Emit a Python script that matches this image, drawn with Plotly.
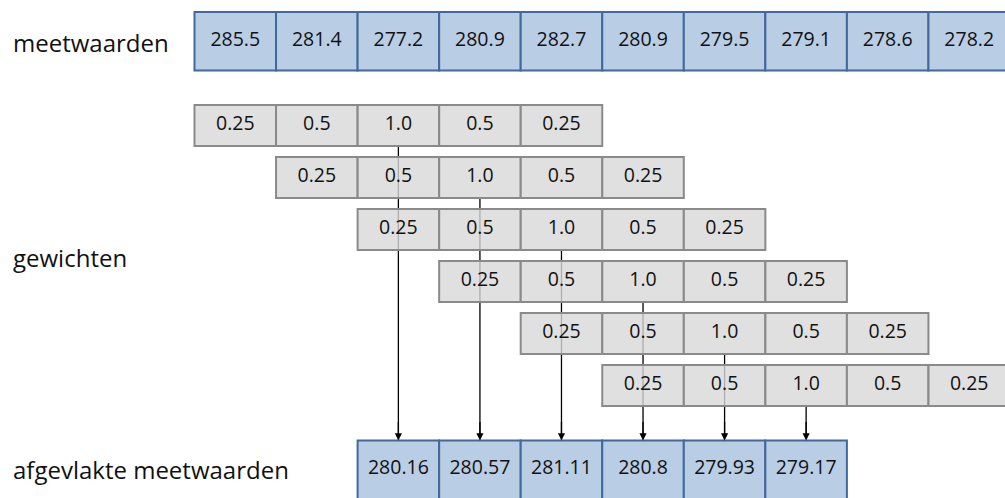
import plotly.graph_objects as go

# Data
meetwaarden = [285.5, 281.4, 277.2, 280.9, 282.7, 280.9, 279.5, 279.1, 278.6, 278.2]
gewichten = [0.25, 0.5, 1.0, 0.5, 0.25]
afgevlakt = [280.16, 280.57, 281.11, 280.8, 279.93, 279.17]
labels = ["meetwaarden", "gewichten", "afgevlakte meetwaarden"]

# Layout geometry
W, H = 1005, 498
x0 = 194.5
cw = 81.55
top_y = (12, 70.5)
row_h = 41
row_top0 = 105
row_step = 52
bot_y = (440.5, 510)

blue_fill = "#b9cde5"
blue_line = "#41699b"
grey_fill = "rgba(216,216,216,0.8)"
grey_line = "#8a8a8a"
font = "Open Sans"

shapes = []
annotations = []
fig = go.Figure()

n_rows = len(meetwaarden) - len(gewichten) + 1  # 6

# Arrow lines (drawn first, beneath boxes)
for j in range(n_rows):
    xc = x0 + (j + 2.5) * cw
    yb = row_top0 + j * row_step + row_h
    shapes.append(dict(type="line", x0=xc, x1=xc, y0=yb, y1=bot_y[0] - 4,
                       line=dict(color="black", width=1.3), xref="x", yref="y",
                       layer="below"))
    annotations.append(dict(x=xc, y=bot_y[0], ax=xc, ay=bot_y[0] - 20,
                            xref="x", yref="y", axref="x", ayref="y",
                            showarrow=True, arrowhead=2, arrowsize=1.1,
                            arrowwidth=1.3, arrowcolor="black", standoff=0, text=""))

# Top row: meetwaarden
tx, ty, tt = [], [], []
for i, v in enumerate(meetwaarden):
    shapes.append(dict(type="rect", x0=x0 + i * cw, x1=x0 + (i + 1) * cw,
                       y0=top_y[0], y1=top_y[1], fillcolor=blue_fill,
                       line=dict(color=blue_line, width=2), xref="x", yref="y",
                       layer="below"))
    tx.append(x0 + (i + 0.5) * cw)
    ty.append((top_y[0] + top_y[1]) / 2)
    tt.append(f"{v:.1f}")

# Weight rows
gx, gy, gt = [], [], []
for j in range(n_rows):
    yt = row_top0 + j * row_step
    for k, w in enumerate(gewichten):
        xl = x0 + (j + k) * cw
        shapes.append(dict(type="rect", x0=xl, x1=xl + cw, y0=yt, y1=yt + row_h,
                           fillcolor=grey_fill, line=dict(color=grey_line, width=2),
                           xref="x", yref="y", layer="below"))
        gx.append(xl + cw / 2)
        gy.append(yt + row_h / 2)
        gt.append(str(w))

# Bottom row: afgevlakte meetwaarden
bx, by, bt = [], [], []
for i, v in enumerate(afgevlakt):
    xl = x0 + (i + 2) * cw
    shapes.append(dict(type="rect", x0=xl, x1=xl + cw, y0=bot_y[0], y1=bot_y[1],
                       fillcolor=blue_fill, line=dict(color=blue_line, width=2),
                       xref="x", yref="y", layer="below"))
    bx.append(xl + cw / 2)
    by.append(469)
    bt.append(f"{v:g}")

for xs, ys, ts in [(tx, ty, tt), (gx, gy, gt), (bx, by, bt)]:
    fig.add_trace(go.Scatter(x=xs, y=ys, text=ts, mode="text",
                             textfont=dict(family=font, size=19.5, color="#111111"),
                             hoverinfo="skip", showlegend=False, cliponaxis=False))

for lab, yy in zip(labels, [42, 257, 469]):
    annotations.append(dict(x=11, y=yy, xref="x", yref="y", text=lab, showarrow=False,
                            xanchor="left", yanchor="middle",
                            font=dict(family=font, size=24, color="#111111")))

fig.update_layout(
    width=W, height=H, margin=dict(l=0, r=0, t=0, b=0),
    paper_bgcolor="white", plot_bgcolor="white",
    xaxis=dict(range=[0, W], visible=False, fixedrange=True),
    yaxis=dict(range=[H, 0], visible=False, fixedrange=True),
    shapes=shapes, annotations=annotations, showlegend=False,
)

fig.write_html(
    "out.html",
    config={"displayModeBar": False},
    post_script="document.body.style.margin='0';document.body.style.overflow='hidden';",
)
